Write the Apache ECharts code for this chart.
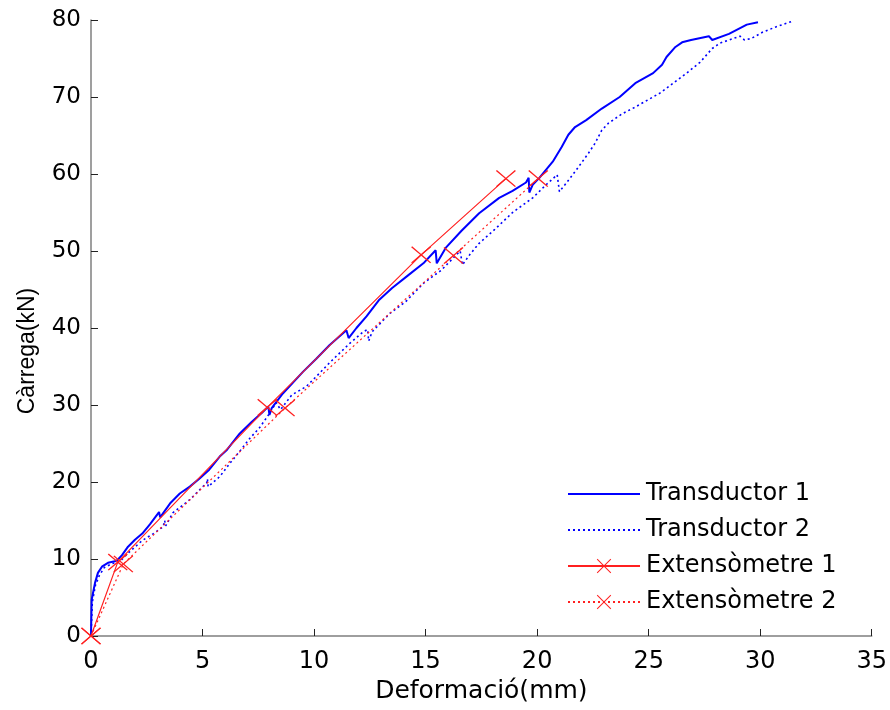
<!DOCTYPE html>
<html>
<head>
<meta charset="utf-8">
<script src="https://cdn.jsdelivr.net/npm/echarts@6/dist/echarts.min.js"></script>
<style>
html,body{margin:0;padding:0;background:#fff;}
#chart{width:890px;height:710px;}
</style>
</head>
<body>
<div id="chart"></div>
<script>
var xTicks = [0, 5, 10, 15, 20, 25, 30, 35];
var yTicks = [0, 10, 20, 30, 40, 50, 60, 70, 80];
var seriesNames = ['Transductor 1', 'Transductor 2', 'Extensòmetre 1', 'Extensòmetre 2'];

var transductor1 = [[0,0],[0.03,4.7],[0.18,6.9],[0.31,8.2],[0.49,9.0],[0.76,9.5],[1.07,9.7],[1.2,9.9],[1.39,10.5],[1.66,11.6],[1.97,12.5],[2.3,13.3],[2.64,14.5],[3.05,16.1],[3.1,15.4],[3.54,17.2],[3.98,18.5],[4.43,19.4],[4.88,20.5],[5.3,21.6],[5.77,23.3],[6.1,24.2],[6.67,26.3],[7.2,27.8],[7.7,29.1],[7.95,29.8],[8.0,28.7],[8.1,29.6],[8.6,31.5],[9.5,34.3],[10.1,36.0],[10.7,37.8],[11.45,39.7],[11.55,38.7],[11.9,40.0],[12.35,41.5],[12.9,43.6],[13.5,45.2],[14.2,46.8],[14.9,48.4],[15.45,50.1],[15.5,48.4],[15.9,50.4],[16.6,52.6],[17.4,54.9],[18.3,56.9],[18.9,57.8],[19.5,58.9],[19.62,59.5],[19.65,57.6],[19.8,58.6],[20.1,59.5],[20.7,61.6],[21.1,63.5],[21.4,65.1],[21.7,66.1],[22.2,67.0],[22.9,68.5],[23.7,70.0],[24.4,71.8],[25.2,73.1],[25.6,74.2],[25.8,75.2],[26.2,76.5],[26.5,77.1],[26.9,77.4],[27.7,77.9],[27.85,77.4],[28.6,78.2],[29.4,79.4],[29.9,79.7]];

var transductor2 = [[0,0],[0.06,4.4],[0.2,6.6],[0.38,7.9],[0.6,8.9],[0.95,9.4],[1.3,9.7],[1.75,11.0],[2.3,12.4],[2.8,13.3],[3.24,14.2],[3.3,15.0],[3.35,14.3],[3.67,16.0],[4.43,17.7],[5.19,19.9],[5.22,20.4],[5.25,19.4],[5.77,20.7],[6.22,22.4],[6.67,24.0],[7.1,25.6],[7.57,27.1],[8.0,28.9],[8.3,30.3],[8.5,29.4],[9.0,31.3],[9.65,32.4],[10.1,33.7],[10.7,35.5],[11.6,38.0],[12.2,39.5],[12.4,39.8],[12.45,38.3],[12.6,39.5],[13.4,41.9],[14.1,43.4],[14.9,45.8],[15.7,47.5],[16.55,50.0],[16.65,48.2],[17.0,49.6],[17.4,51.0],[18.1,52.8],[18.9,55.0],[19.8,56.9],[20.4,58.6],[20.9,59.9],[21.0,57.7],[21.3,58.8],[21.75,60.5],[22.3,62.7],[22.6,64.0],[22.9,65.7],[23.2,66.6],[23.8,67.8],[24.4,68.7],[25.5,70.5],[26.1,71.8],[26.7,73.1],[27.3,74.5],[27.85,76.3],[28.2,77.0],[28.6,77.4],[29.1,77.9],[29.3,77.4],[29.6,77.6],[30.1,78.4],[30.7,79.1],[31.4,79.8]];

var extensometre1 = [[0,0],[1.2,9.6],[7.9,29.7],[14.8,49.5],[18.6,59.4]];
var extensometre2 = [[0,0],[1.45,9.35],[8.7,29.6],[16.25,49.4],[20.05,59.4]];

var crossPath = 'path://M0,0.5L0.5,0L5,4.5L9.5,0L10,0.5L5.5,5L10,9.5L9.5,10L5,5.5L0.5,10L0,9.5L4.5,5Z';
var font = 'DejaVu Sans, sans-serif';
var fontY = 'Liberation Sans, Arial, sans-serif';

var chart = echarts.init(document.getElementById('chart'));
chart.setOption({
  animation: false,
  backgroundColor: '#ffffff',
  grid: {left: 91, right: 17, top: 20, bottom: 74, containLabel: false},
  legend: {
    left: 562, top: 477, orient: 'vertical',
    itemWidth: 72, itemHeight: 18, itemGap: 12,
    textStyle: {fontFamily: font, fontSize: 24, color: '#000', padding: [0, 0, 0, 1]},
    data: seriesNames
  },
  xAxis: {
    type: 'value', min: 0, max: 35, interval: 5,
    name: 'Deformació(mm)', nameLocation: 'middle', nameGap: 42,
    nameTextStyle: {fontFamily: font, fontSize: 25, color: '#000'},
    axisLine: {show: true, lineStyle: {color: '#7f7f7f', width: 1.5}},
    axisTick: {show: true, inside: true, length: 7, lineStyle: {color: '#222'}},
    axisLabel: {fontFamily: font, fontSize: 24, color: '#000', margin: 14,
      formatter: function (v) { return xTicks.indexOf(v) >= 0 ? String(v) : ''; }},
    splitLine: {show: false}
  },
  yAxis: {
    type: 'value', min: 0, max: 80, interval: 10,
    name: 'Càrrega(kN)', nameLocation: 'middle', nameGap: 52, nameRotate: 90,
    nameTextStyle: {fontFamily: fontY, fontSize: 23, color: '#000', padding: [0, 46, 0, 0]},
    axisLine: {show: true, lineStyle: {color: '#7f7f7f', width: 1.5}},
    axisTick: {show: true, inside: true, length: 7, lineStyle: {color: '#222'}},
    axisLabel: {fontFamily: font, fontSize: 23, color: '#000', margin: 10,
      formatter: function (v) { return yTicks.indexOf(v) >= 0 ? String(v) : ''; }},
    splitLine: {show: false}
  },
  series: [
    {name: seriesNames[0], type: 'line', data: transductor1, showSymbol: false, symbol: 'none',
      lineStyle: {color: '#0000ff', width: 2}, itemStyle: {color: 'rgba(0,0,0,0)'}, z: 3},
    {name: seriesNames[1], type: 'line', data: transductor2, showSymbol: false, symbol: 'none',
      lineStyle: {color: '#0000ff', width: 1.6, type: [2, 3]}, itemStyle: {color: 'rgba(0,0,0,0)'}, z: 3},
    {name: seriesNames[2], type: 'line', data: extensometre1, symbol: crossPath, symbolSize: [20, 17],
      lineStyle: {color: '#ff2020', width: 1.2}, itemStyle: {color: '#ff2020'}, z: 4},
    {name: seriesNames[3], type: 'line', data: extensometre2, symbol: crossPath, symbolSize: [20, 17],
      lineStyle: {color: '#ff2020', width: 1.2, type: [2, 3]}, itemStyle: {color: '#ff2020'}, z: 4}
  ]
});
</script>
</body>
</html>
